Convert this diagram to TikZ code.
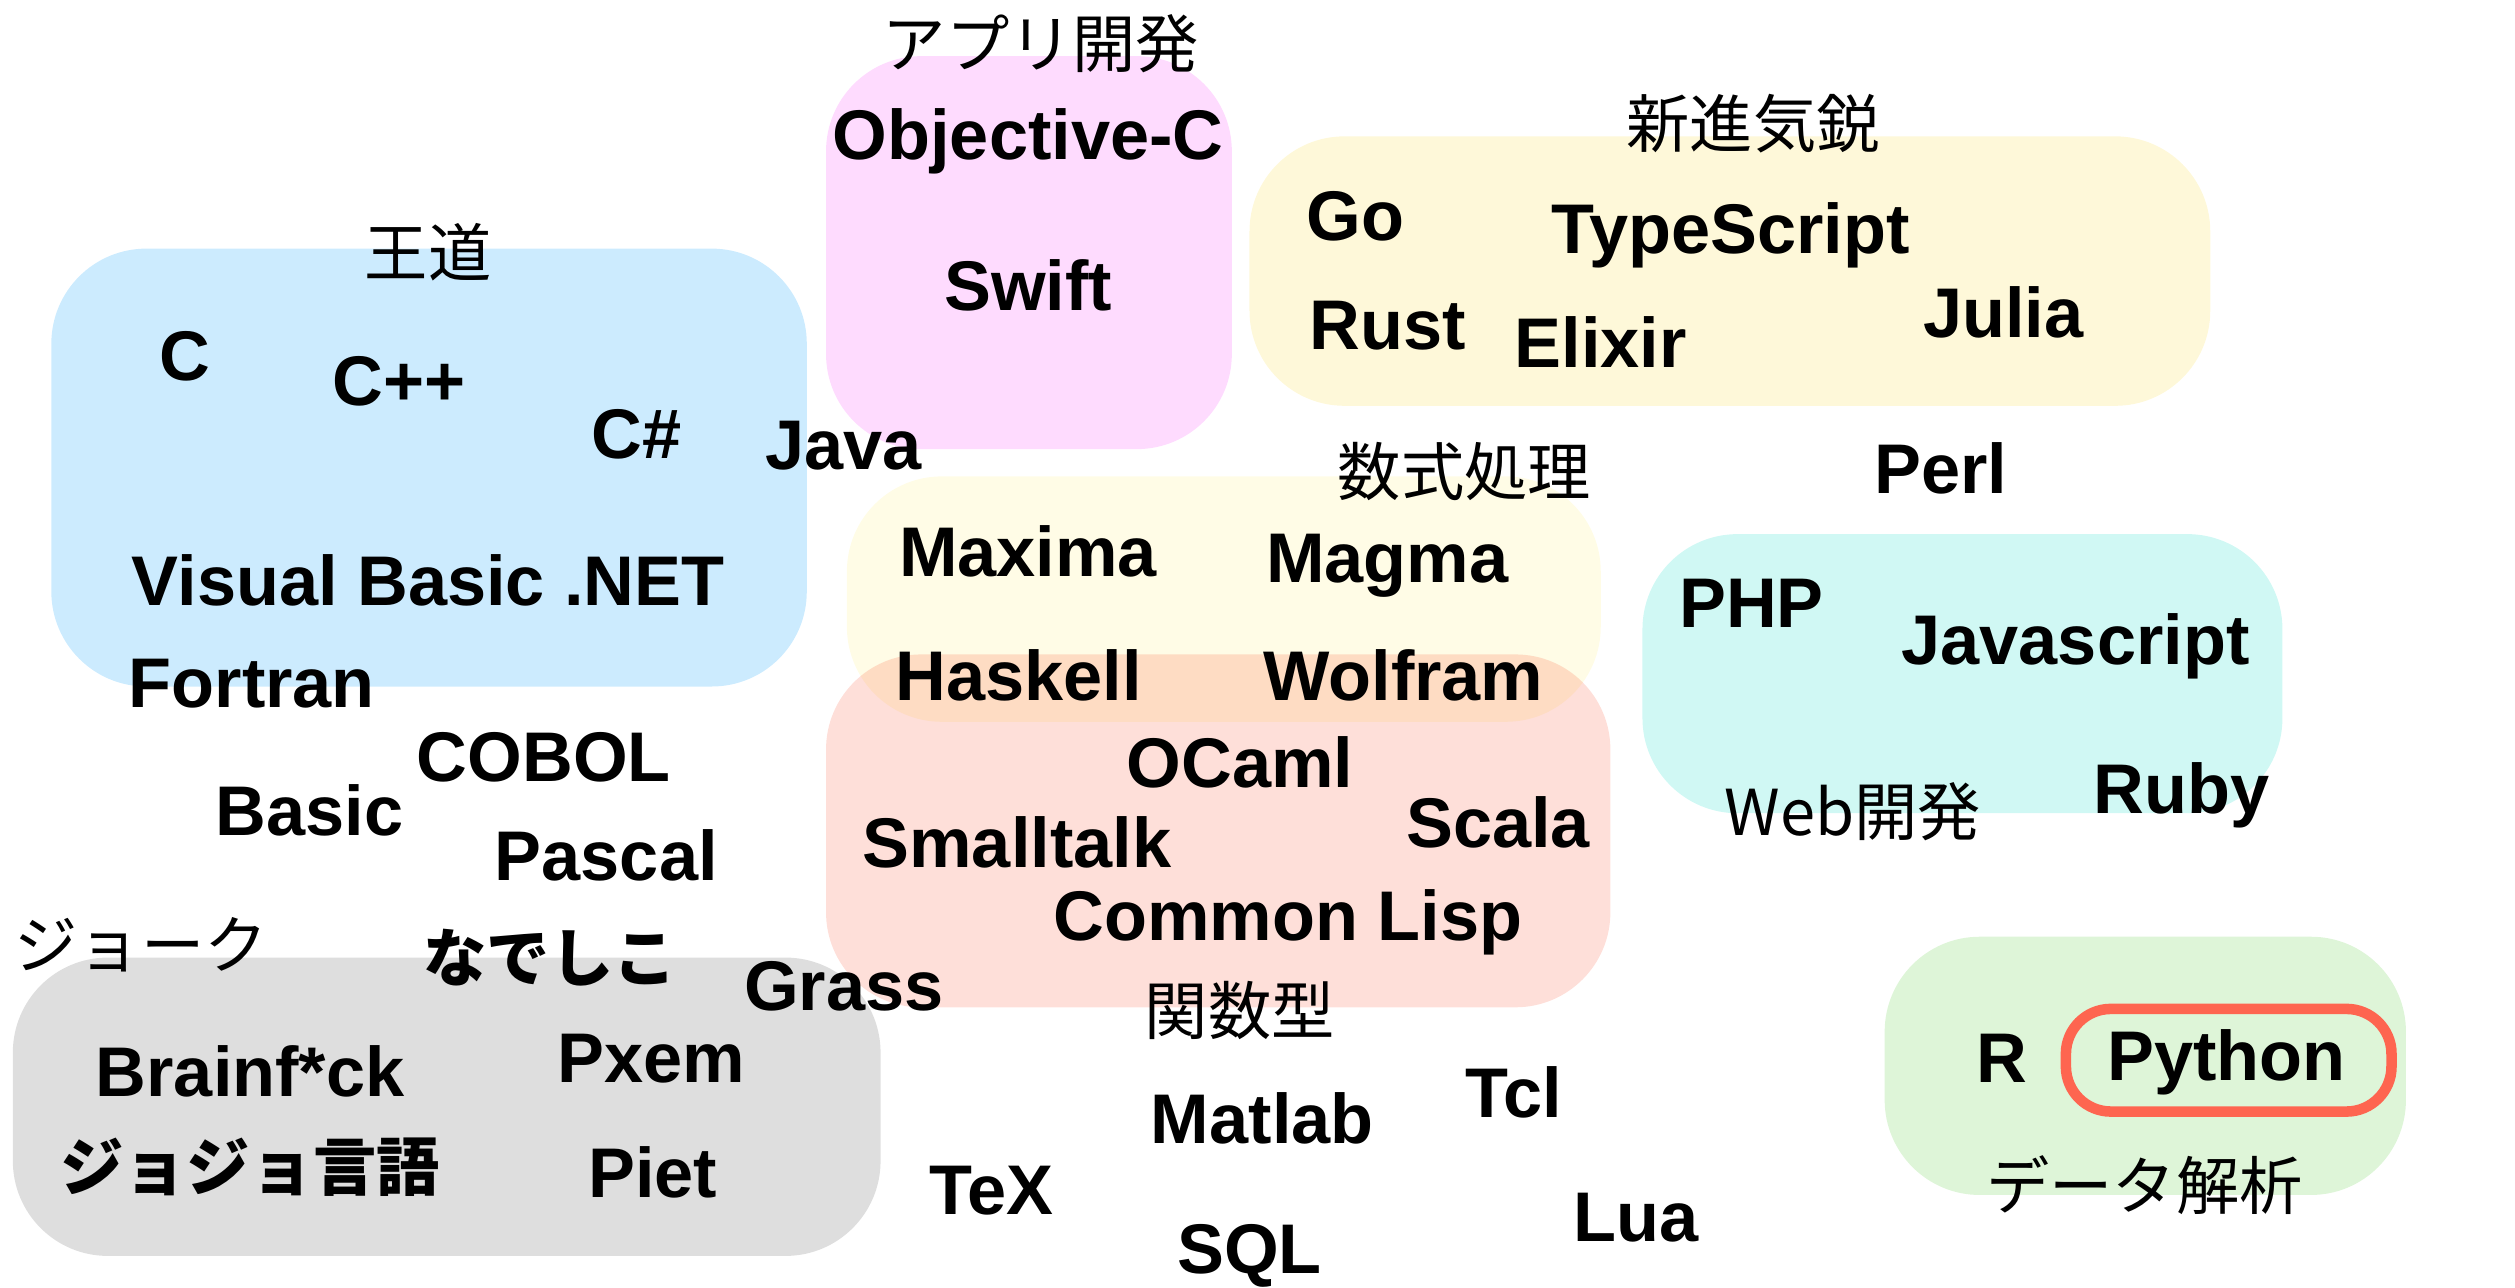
\documentclass[tikz,border=0pt]{standalone}
\usepackage{fontspec}
\setmainfont{Liberation Sans}
\newfontfamily\jp{Noto Sans CJK JP}
\usetikzlibrary{positioning}
\definecolor{kBlue}{HTML}{CCEBFE}
\definecolor{kPink}{HTML}{FEDBFE}
\definecolor{kYellow}{HTML}{FEF8D9}
\definecolor{kCream}{HTML}{FFFCE6}
\definecolor{kSalmon}{HTML}{FEDFD9}
\definecolor{kCyan}{HTML}{D0F8F4}
\definecolor{kGreen}{HTML}{DEF5D8}
\definecolor{kGray}{HTML}{DEDEDE}
\definecolor{kRed}{HTML}{FE6550}
\begin{document}
\begin{tikzpicture}[x=0.01604cm,y=-0.01604cm,
    lang/.style={font=\fontsize{20}{22}\selectfont\bfseries},
    jlang/.style={font=\fontsize{18}{20}\selectfont\jp\bfseries},
    cat/.style={font=\fontsize{18}{20}\selectfont\jp},
    grp/.style={rounded corners=0.95cm}]
	\useasboundingbox (0,0) rectangle (1568,803);
	% groups
	\fill[grp,kBlue] (32,155) rectangle (503,428);
	\fill[grp,kPink] (515,35) rectangle (768,280);
	\fill[grp,kYellow] (779,85) rectangle (1378,253);
	\begin{scope}[blend group=multiply]
		\fill[grp,kCream] (528,297) rectangle (998,450);
		\fill[grp,kSalmon] (515,408) rectangle (1004,628);
	\end{scope}
	\fill[grp,kCyan] (1024,333) rectangle (1423,507);
	\fill[grp,kGreen] (1175,584) rectangle (1500,745);
	\fill[grp,kGray] (8,597) rectangle (549,783);
	\draw[kRed,line width=3pt,rounded corners=0.45cm] (1288,629) rectangle (1491,693);
	% group labels
	\node[cat] (app) at (649,27) {アプリ開発};
	\node[cat] (new) at (1093,77) {新進気鋭};
	\node[cat] (main) at (267,157) {王道};
	\node[cat] (math) at (913,294) {数式処理};
	\node[cat] (web) at (1155,506) {Web開発};
	\node[cat] (joke) at (88,589) {ジョーク};
	\node[cat] (func) at (773,630) {関数型};
	\node[cat] (data) at (1337,739) {データ解析};
	% languages
	\node[lang] (objc) at (641,88) {Objective-C};
	\node[lang] (swift) at (641,178) {Swift};
	\node[lang] (go) at (845,135) {Go};
	\node[lang] (ts) at (1079,147) {TypeScript};
	\node[lang] (rust) at (865,203) {Rust};
	\node[lang] (elixir) at (998,213) {Elixir};
	\node[lang] (julia) at (1249,195) {Julia};
	\node[lang] (c) at (115,222) {C};
	\node[lang] (cpp) at (249,238) {C++};
	\node[lang] (cs) at (397,271) {C\#};
	\node[lang] (java) at (526,278) {Java};
	\node[lang] (vb) at (267,362) {Visual Basic .NET};
	\node[lang] (fortran) at (157,426) {Fortran};
	\node[lang] (perl) at (1210,292) {Perl};
	\node[lang] (maxima) at (641,344) {Maxima};
	\node[lang] (magma) at (865,353) {Magma};
	\node[lang] (haskell) at (635,421) {Haskell};
	\node[lang] (wolfram) at (875,421) {Wolfram};
	\node[lang] (php) at (1092,376) {PHP};
	\node[lang] (js) at (1294,403) {Javascript};
	\node[lang] (ocaml) at (773,475) {OCaml};
	\node[lang] (scala) at (934,513) {Scala};
	\node[lang] (smalltalk) at (634,525) {Smalltalk};
	\node[lang] (lisp) at (803,575) {Common Lisp};
	\node[lang] (ruby) at (1360,496) {Ruby};
	\node[lang] (cobol) at (339,472) {COBOL};
	\node[lang] (basic) at (193,505) {Basic};
	\node[lang] (pascal) at (378,533) {Pascal};
	\node[jlang] (nade) at (343,597) {なでしこ};
	\node[lang] (grass) at (526,615) {Grass};
	\node[lang] (bf) at (156,668) {Brainf*ck};
	\node[lang] (pxem) at (406,660) {Pxem};
	\node[jlang] (jojo) at (156,728) {ジョジョ言語};
	\node[lang] (piet) at (407,731) {Piet};
	\node[lang] (tex) at (618,742) {TeX};
	\node[lang] (matlab) at (787,697) {Matlab};
	\node[lang] (sql) at (779,783) {SQL};
	\node[lang] (tcl) at (944,681) {Tcl};
	\node[lang] (lua) at (1020,759) {Lua};
	\node[lang] (r) at (1248,660) {R};
	\node[lang] (py) at (1388,662) {Python};
\end{tikzpicture}
\end{document}
